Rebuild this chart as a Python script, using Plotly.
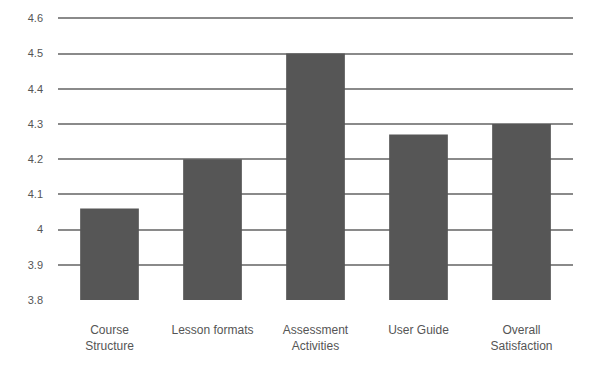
import plotly.graph_objects as go

categories = ["Course<br>Structure", "Lesson formats", "Assessment<br>Activities",
              "User Guide", "Overall<br>Satisfaction"]
scores = [4.06, 4.2, 4.5, 4.27, 4.3]
y_ticks = [3.8, 3.9, 4.0, 4.1, 4.2, 4.3, 4.4, 4.5, 4.6]

fig = go.Figure(
    go.Bar(
        x=categories,
        y=scores,
        marker=dict(color="#565656", line=dict(width=0)),
        width=0.57,
    )
)

fig.update_layout(
    width=600,
    height=365,
    margin=dict(l=58, r=27, t=13, b=63),
    paper_bgcolor="white",
    plot_bgcolor="white",
    showlegend=False,
    font=dict(family="Liberation Sans", size=11, color="#555555"),
    bargap=0.43,
)

fig.update_yaxes(
    range=[3.8, 4.604],
    tickvals=y_ticks,
    ticktext=[f"{v:g}" for v in y_ticks],
    showgrid=True,
    gridcolor="#8a8a8a",
    gridwidth=1.5,
    zeroline=False,
    showline=False,
    ticks="",
    ticklabelstandoff=14,
    tickfont=dict(size=11, color="#555555"),
)

fig.update_xaxes(
    showgrid=False,
    showline=True,
    linecolor="white",
    linewidth=2,
    ticks="",
    ticklabelstandoff=18,
    tickfont=dict(size=12, color="#555555"),
)

fig.write_html("out.html")
